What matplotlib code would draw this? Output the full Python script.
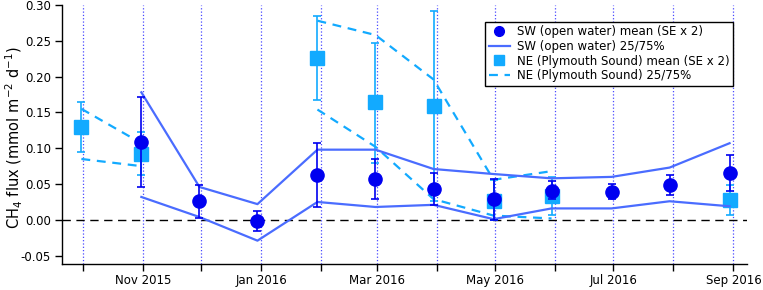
import matplotlib
matplotlib.use('Agg')
import matplotlib.pyplot as plt
import matplotlib.dates as mdates
from matplotlib.lines import Line2D
import numpy as np
import datetime as dt

# Sampling dates (end of each month)
dates = [dt.date(2015, 9, 30), dt.date(2015, 10, 31), dt.date(2015, 11, 30),
         dt.date(2015, 12, 30), dt.date(2016, 1, 30), dt.date(2016, 2, 29),
         dt.date(2016, 3, 30), dt.date(2016, 4, 30), dt.date(2016, 5, 30),
         dt.date(2016, 6, 30), dt.date(2016, 7, 30), dt.date(2016, 8, 30)]

nan = np.nan

# SW (open water): mean, 2*SE bar ends, 25/75 percentiles
sw_mean = [nan, 0.109, 0.026, -0.001, 0.063, 0.057, 0.043, 0.029, 0.041, 0.039, 0.048, 0.065]
sw_err_hi = [nan, 0.171, 0.049, 0.013, 0.107, 0.085, 0.065, 0.057, 0.054, 0.050, 0.062, 0.091]
sw_err_lo = [nan, 0.046, 0.002, -0.015, 0.018, 0.029, 0.021, 0.000, 0.029, 0.029, 0.035, 0.040]
sw_p75 = [nan, 0.178, 0.046, 0.022, 0.098, 0.098, 0.071, 0.064, 0.058, 0.060, 0.073, 0.107]
sw_p25 = [nan, 0.032, 0.004, -0.029, 0.025, 0.018, 0.021, 0.001, 0.016, 0.016, 0.026, 0.019]

# NE (Plymouth Sound)
ne_mean = [0.129, 0.092, nan, nan, 0.226, 0.164, 0.159, 0.027, 0.033, nan, nan, 0.028]
ne_err_hi = [0.165, 0.122, nan, nan, 0.285, 0.247, 0.292, 0.056, 0.060, nan, nan, 0.049]
ne_err_lo = [0.095, 0.063, nan, nan, 0.168, 0.079, 0.026, 0.000, 0.007, nan, nan, 0.007]
ne_p75 = [0.155, 0.107, nan, nan, 0.278, 0.258, 0.196, 0.056, 0.068, nan, nan, nan]
ne_p25 = [0.085, 0.075, nan, nan, 0.154, 0.102, 0.029, 0.006, 0.002, nan, nan, nan]

sw_dot = '#0000f0'
sw_line = '#4a6cff'
ne_col = '#12aaff'

x = mdates.date2num(dates)

plt.rcParams['font.family'] = 'DejaVu Sans'
fig = plt.figure(figsize=(7.63, 2.90), dpi=100)
ax = fig.add_axes([0.0813, 0.0886, 0.8977, 0.8944])

# month grid (dotted)
for m in range(10, 22):
    yr = 2015 + (m - 1) // 12
    mo = (m - 1) % 12 + 1
    ax.axvline(mdates.date2num(dt.date(yr, mo, 1)), color='#4848ff',
               linestyle=':', linewidth=0.9, zorder=0)

ax.axhline(0, color='black', linestyle=(0, (6, 4)), linewidth=1.0, zorder=1)

# NE series
ne_mean = np.array(ne_mean)
ax.plot(x, ne_p75, color=ne_col, linestyle=(0, (4, 3)), linewidth=1.6, zorder=2)
ax.plot(x, ne_p25, color=ne_col, linestyle=(0, (4, 3)), linewidth=1.6, zorder=2)
ax.errorbar(x, ne_mean, yerr=[ne_mean - np.array(ne_err_lo), np.array(ne_err_hi) - ne_mean],
            fmt='s', color=ne_col, markersize=9.5, capsize=3, elinewidth=1.2,
            capthick=1.2, zorder=3)

# SW series
sw_mean = np.array(sw_mean)
ax.plot(x, sw_p75, color=sw_line, linewidth=1.6, zorder=4)
ax.plot(x, sw_p25, color=sw_line, linewidth=1.6, zorder=4)
ax.errorbar(x, sw_mean, yerr=[sw_mean - np.array(sw_err_lo), np.array(sw_err_hi) - sw_mean],
            fmt='o', color=sw_dot, markersize=9.5, capsize=3, elinewidth=1.2,
            capthick=1.2, zorder=5)

ax.set_xlim(mdates.date2num(dt.date(2015, 9, 20)), mdates.date2num(dt.date(2016, 9, 8)))
ax.set_ylim(-0.062, 0.30)
ax.set_yticks(np.arange(-0.05, 0.301, 0.05))
ax.yaxis.set_major_formatter(matplotlib.ticker.FormatStrFormatter('%.2f'))
ax.xaxis.set_major_locator(mdates.MonthLocator(bymonth=[1, 3, 5, 7, 9, 11]))
ax.xaxis.set_minor_locator(mdates.MonthLocator())
ax.xaxis.set_major_formatter(mdates.DateFormatter('%b %Y'))
ax.tick_params(axis='both', labelsize=8.5, length=5, width=1, direction='out', pad=3)
ax.tick_params(axis='x', which='minor', length=5, width=1)
ax.tick_params(axis='x', pad=2)
for s in ['top', 'right']:
    ax.spines[s].set_visible(False)
for s in ['left', 'bottom']:
    ax.spines[s].set_linewidth(1)

ax.set_ylabel('CH$_4$ flux (mmol m$^{-2}$ d$^{-1}$)', fontsize=10.5)
ax.yaxis.set_label_coords(-0.054, 0.49)

handles = [
    Line2D([], [], marker='o', linestyle='none', color=sw_dot, markersize=7),
    Line2D([], [], color=sw_line, linewidth=1.6),
    Line2D([], [], marker='s', linestyle='none', color=ne_col, markersize=7),
    Line2D([], [], color=ne_col, linewidth=1.6, linestyle=(0, (4, 3))),
]
labels = ['SW (open water) mean (SE x 2)', 'SW (open water) 25/75%',
          'NE (Plymouth Sound) mean (SE x 2)', 'NE (Plymouth Sound) 25/75%']
leg = ax.legend(handles, labels, loc='upper right', bbox_to_anchor=(0.98, 0.936),
                borderaxespad=0, fontsize=8.5, frameon=True, fancybox=False,
                edgecolor='black', framealpha=1, handlelength=1.8,
                handletextpad=0.6, labelspacing=0.15, borderpad=0.3)
leg.get_frame().set_linewidth(1)

fig.savefig('out.png', dpi=100)
